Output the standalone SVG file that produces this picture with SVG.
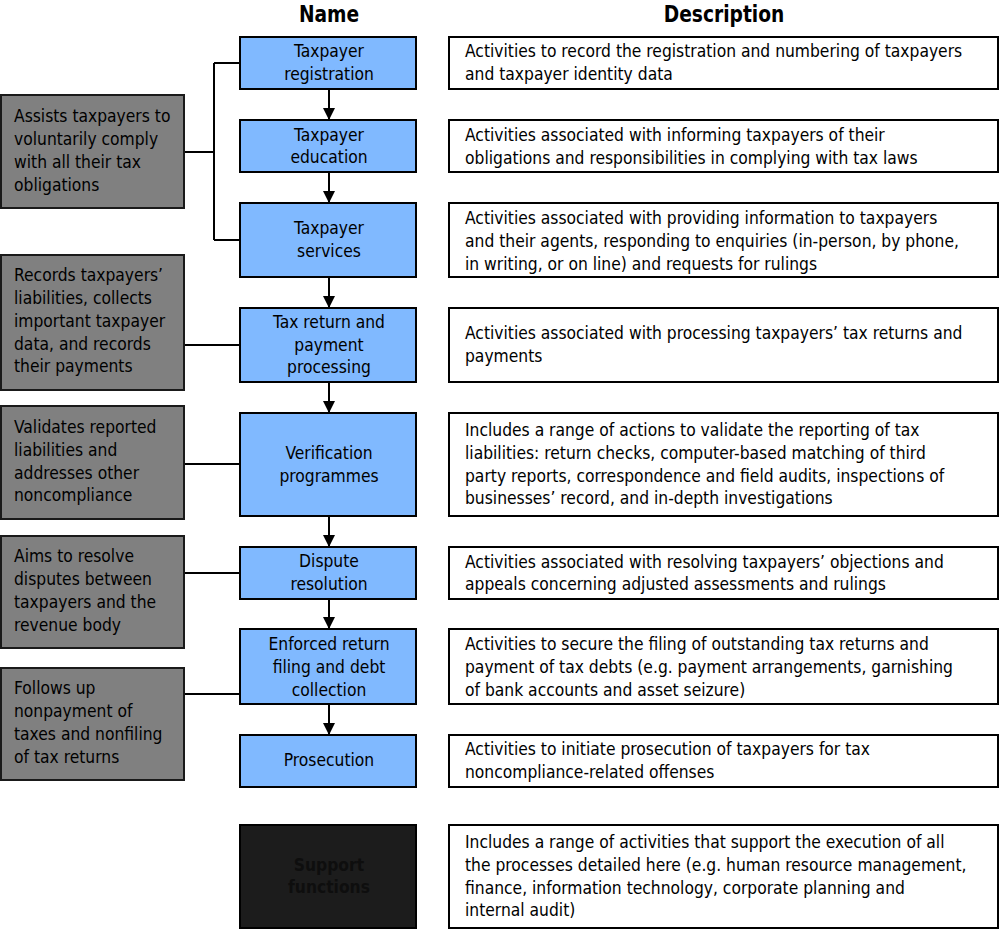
<svg xmlns="http://www.w3.org/2000/svg" width="1000" height="929" viewBox="0 0 1000 929">
<defs>
<style>
text{font-family:"Liberation Sans Narrow","DejaVu Sans Condensed","Roboto Condensed","Liberation Sans",sans-serif;font-size:17.3px;fill:#000}
.hdr{font-size:23px;font-weight:bold;text-anchor:middle}
.blue rect{fill:#80b9ff;stroke:#000;stroke-width:2}
.blue text{text-anchor:middle}
.gray rect{fill:#808080;stroke:#1a1a1a;stroke-width:2}
.desc rect{fill:#fff;stroke:#000;stroke-width:2}
.dark rect{fill:#1c1c1c;stroke:#000;stroke-width:2}
.dark text{fill:#0e0e0e;text-anchor:middle;font-weight:bold}
.conn path{fill:none;stroke:#000;stroke-width:2}
.arr{marker-end:url(#ah)}
</style>
<marker id="ah" viewBox="0 0 12 12" refX="12" refY="6" markerWidth="12" markerHeight="12" markerUnits="userSpaceOnUse" orient="auto">
<path d="M0,0 L12,6 L0,12 Z" fill="#000"/>
</marker>
</defs>
<rect width="1000" height="929" fill="#fff"/>
<text class="hdr" transform="translate(329,22) scale(0.9,1)">Name</text>
<text class="hdr" transform="translate(724,22) scale(0.9,1)">Description</text>

<g class="conn">
<path d="M184,152 H214 M214,63 V240 M214,63 H240 M214,240 H240"/>
<path d="M184,345 H240"/>
<path d="M184,464 H240"/>
<path d="M184,573 H240"/>
<path d="M184,694 H240"/>
<path class="arr" d="M329,89 V120"/>
<path class="arr" d="M329,172 V203"/>
<path class="arr" d="M329,277 V308"/>
<path class="arr" d="M329,382 V413"/>
<path class="arr" d="M329,516 V547"/>
<path class="arr" d="M329,599 V629"/>
<path class="arr" d="M329,704 V735"/>
</g>

<g id="n-registration" class="blue"><rect x="240" y="37" width="176" height="52"/><text x="329" y="57">Taxpayer</text><text x="329" y="80">registration</text></g>
<g id="n-education" class="blue"><rect x="240" y="120" width="176" height="52"/><text x="329" y="141">Taxpayer</text><text x="329" y="163">education</text></g>
<g id="n-services" class="blue"><rect x="240" y="203" width="176" height="74"/><text x="329" y="234">Taxpayer</text><text x="329" y="257">services</text></g>
<g id="n-taxreturn" class="blue"><rect x="240" y="308" width="176" height="74"/><text x="329" y="328">Tax return and</text><text x="329" y="351">payment</text><text x="329" y="373">processing</text></g>
<g id="n-verification" class="blue"><rect x="240" y="413" width="176" height="103"/><text x="329" y="459">Verification</text><text x="329" y="482">programmes</text></g>
<g id="n-dispute" class="blue"><rect x="240" y="547" width="176" height="52"/><text x="329" y="567">Dispute</text><text x="329" y="590">resolution</text></g>
<g id="n-enforced" class="blue"><rect x="240" y="629" width="176" height="75"/><text x="329" y="650">Enforced return</text><text x="329" y="673">filing and debt</text><text x="329" y="696">collection</text></g>
<g id="n-prosecution" class="blue"><rect x="240" y="735" width="176" height="52"/><text x="329" y="766">Prosecution</text></g>
<g id="n-support" class="dark"><rect x="240" y="825" width="176" height="103"/><text x="329" y="871">Support</text><text x="329" y="893">functions</text></g>

<g id="g-assists" class="gray"><rect x="1" y="95" width="183" height="113"/><text x="14" y="122">Assists taxpayers to</text><text x="14" y="145">voluntarily comply</text><text x="14" y="168">with all their tax</text><text x="14" y="191">obligations</text></g>
<g id="g-records" class="gray"><rect x="1" y="255" width="183" height="135"/><text x="14" y="281">Records taxpayers’</text><text x="14" y="304">liabilities, collects</text><text x="14" y="327">important taxpayer</text><text x="14" y="350">data, and records</text><text x="14" y="372">their payments</text></g>
<g id="g-validates" class="gray"><rect x="1" y="406" width="183" height="113"/><text x="14" y="433">Validates reported</text><text x="14" y="456">liabilities and</text><text x="14" y="479">addresses other</text><text x="14" y="501">noncompliance</text></g>
<g id="g-aims" class="gray"><rect x="1" y="536" width="183" height="112"/><text x="14" y="562">Aims to resolve</text><text x="14" y="585">disputes between</text><text x="14" y="608">taxpayers and the</text><text x="14" y="631">revenue body</text></g>
<g id="g-follows" class="gray"><rect x="1" y="668" width="183" height="112"/><text x="14" y="694">Follows up</text><text x="14" y="717">nonpayment of</text><text x="14" y="740">taxes and nonfiling</text><text x="14" y="763">of tax returns</text></g>

<g id="d-registration" class="desc"><rect x="449" y="37" width="549" height="52"/><text x="465" y="57">Activities to record the registration and numbering of taxpayers</text><text x="465" y="80">and taxpayer identity data</text></g>
<g id="d-education" class="desc"><rect x="449" y="120" width="549" height="52"/><text x="465" y="141">Activities associated with informing taxpayers of their</text><text x="465" y="164">obligations and responsibilities in complying with tax laws</text></g>
<g id="d-services" class="desc"><rect x="449" y="203" width="549" height="74"/><text x="465" y="224">Activities associated with providing information to taxpayers</text><text x="465" y="247">and their agents, responding to enquiries (in-person, by phone,</text><text x="465" y="270">in writing, or on line) and requests for rulings</text></g>
<g id="d-taxreturn" class="desc"><rect x="449" y="308" width="549" height="74"/><text x="465" y="339">Activities associated with processing taxpayers’ tax returns and</text><text x="465" y="362">payments</text></g>
<g id="d-verification" class="desc"><rect x="449" y="413" width="549" height="103"/><text x="465" y="436">Includes a range of actions to validate the reporting of tax</text><text x="465" y="459">liabilities: return checks, computer-based matching of third</text><text x="465" y="482">party reports, correspondence and field audits, inspections of</text><text x="465" y="504">businesses’ record, and in-depth investigations</text></g>
<g id="d-dispute" class="desc"><rect x="449" y="547" width="549" height="52"/><text x="465" y="568">Activities associated with resolving taxpayers’ objections and</text><text x="465" y="590">appeals concerning adjusted assessments and rulings</text></g>
<g id="d-enforced" class="desc"><rect x="449" y="629" width="549" height="75"/><text x="465" y="650">Activities to secure the filing of outstanding tax returns and</text><text x="465" y="673">payment of tax debts (e.g. payment arrangements, garnishing</text><text x="465" y="696">of bank accounts and asset seizure)</text></g>
<g id="d-prosecution" class="desc"><rect x="449" y="735" width="549" height="52"/><text x="465" y="755">Activities to initiate prosecution of taxpayers for tax</text><text x="465" y="778">noncompliance-related offenses</text></g>
<g id="d-support" class="desc"><rect x="449" y="825" width="549" height="103"/><text x="465" y="848">Includes a range of activities that support the execution of all</text><text x="465" y="871">the processes detailed here (e.g. human resource management,</text><text x="465" y="894">finance, information technology, corporate planning and</text><text x="465" y="916">internal audit)</text></g>
</svg>
